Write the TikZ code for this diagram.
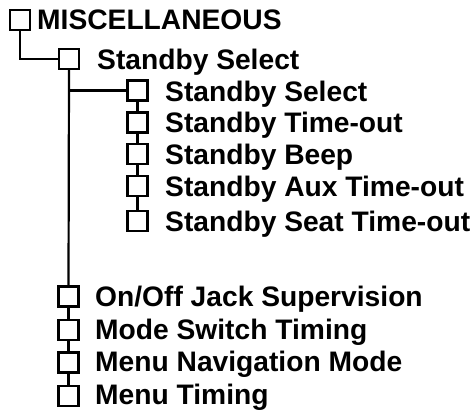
\documentclass[tikz,border=0pt]{standalone}
\usepackage{fontspec}
\setmainfont{Liberation Sans}
\begin{document}
\begin{tikzpicture}[x=1pt,y=-1pt,
  bx/.style={draw,line width=2.2pt,minimum width=20pt,minimum height=20pt,inner sep=0pt,outer sep=0pt},
  lbl/.style={anchor=base west,inner sep=0pt,font=\fontsize{28.2}{30}\selectfont\bfseries},
  ln/.style={line width=2.2pt}]
\useasboundingbox (0,0) rectangle (472,413);
\node[bx] (b0) at (20,20) {};
\node[bx] (b1) at (69,59) {};
\node[bx] (s1) at (137.5,90.5) {};
\node[bx] (s2) at (137.5,122.5) {};
\node[bx] (s3) at (137.5,154) {};
\node[bx] (s4) at (137.5,186) {};
\node[bx] (s5) at (137.5,221) {};
\node[bx] (m1) at (68.5,296.5) {};
\node[bx] (m2) at (68.5,330) {};
\node[bx] (m3) at (68.5,362.5) {};
\node[bx] (m4) at (68.5,396) {};
\node[lbl] (t0) at (37,29.5) {MISCELLANEOUS};
\node[lbl] (t1) at (97,69) {Standby Select};
\node[lbl] (u1) at (165,101) {Standby Select};
\node[lbl] (u2) at (165,132.5) {Standby Time-out};
\node[lbl] (u3) at (165,164) {Standby Beep};
\node[lbl] (u4) at (165,196) {Standby Aux Time-out};
\node[lbl] (u5) at (165,231) {Standby Seat Time-out};
\node[lbl] (n1) at (95,306.5) {On/Off Jack Supervision};
\node[lbl] (n2) at (95,339.5) {Mode Switch Timing};
\node[lbl] (n3) at (95,371.5) {Menu Navigation Mode};
\node[lbl] (n4) at (95,404) {Menu Timing};
\draw[ln] (b0.south) |- (b1.west);
\draw[ln] (b1.south) -- (m1.north);
\coordinate (j) at (b1.south |- s1.west);
\draw[ln] (j) -- (s1.west);
\draw[ln] (s1.south) -- (s2.north) (s2.south) -- (s3.north) (s3.south) -- (s4.north) (s4.south) -- (s5.north);
\draw[ln] (m1.south) -- (m2.north) (m2.south) -- (m3.north) (m3.south) -- (m4.north);
\end{tikzpicture}
\end{document}
